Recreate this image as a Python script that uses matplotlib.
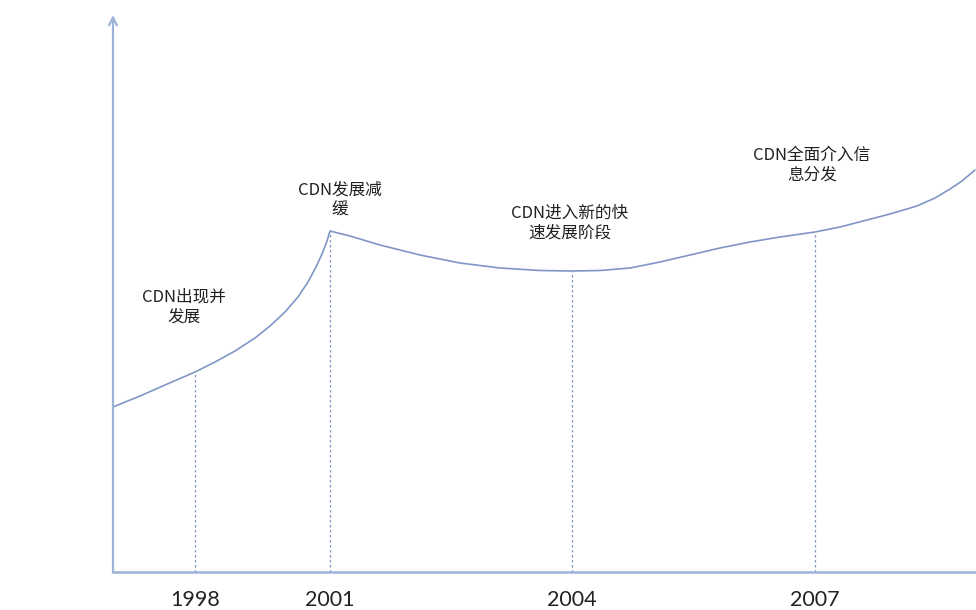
import numpy as np
import matplotlib
matplotlib.use("Agg")
import matplotlib.pyplot as plt

plt.rcParams['font.family'] = ['Noto Sans CJK SC', 'DejaVu Sans']

# schematic development curve, arbitrary units (time 0..863, level 0..557)
curve_t = [0, 27, 52, 82, 102, 122, 142, 157, 172, 185, 195, 203, 209, 214, 217,
           237, 267, 307, 347, 387, 427, 459,
           487, 517, 547, 577, 607, 637, 667, 702,
           727, 754, 777, 804, 822, 837, 849, 862]
curve_level = [165, 176, 187, 200, 210, 221, 234, 246, 260, 275, 290, 305, 318, 331, 341,
               336, 327, 317, 309, 304, 301.5, 301,
               301.5, 304, 310, 317, 324, 330, 335, 340,
               345, 352, 358, 366, 374, 383, 391, 402]

years = ["1998", "2001", "2004", "2007"]
year_t = [82, 217, 459, 702]
stages = ["CDN出现并\n发展", "CDN发展减\n缓", "CDN进入新的快\n速发展阶段", "CDN全面介入信\n息分发"]

line_color = "#8196c6"
axis_color = "#9db3d8"

fig = plt.figure(figsize=(9.76, 6.10), dpi=100)
ax = fig.add_axes([113 / 976, 38 / 610, 863 / 976, 557 / 610])
ax.set_xlim(0, 863)
ax.set_ylim(0, 557)
ax.axis("off")

ax.plot(curve_t, curve_level, color=line_color, lw=1.2,
        solid_capstyle="round", solid_joinstyle="round")

year_level = np.interp(year_t, curve_t, curve_level)
for t, lv in zip(year_t, year_level):
    ax.plot([t, t], [0, lv], color=line_color, lw=0.9, dashes=(2, 2))

# axes with arrows
ax.annotate("", xy=(0, 557), xytext=(0, 0),
            arrowprops=dict(arrowstyle="->", color=axis_color, lw=1.6, mutation_scale=14,
                            shrinkA=0, shrinkB=0), annotation_clip=False)
ax.plot([0, 870], [0, 0], color=axis_color, lw=1.8, clip_on=False)

for t, y in zip(year_t, years):
    ax.text(t, -28, y, ha="center", va="center", fontsize=15.5, color="#222222",
            family=["Lato", "DejaVu Sans"], clip_on=False)

label_pos = [(71, 265), (227, 372), (457, 349), (699, 407)]
for (x, y), s in zip(label_pos, stages):
    ax.text(x, y, s, ha="center", va="center", fontsize=12, color="#222222",
            linespacing=1.2)

fig.savefig("out.png", dpi=100)
